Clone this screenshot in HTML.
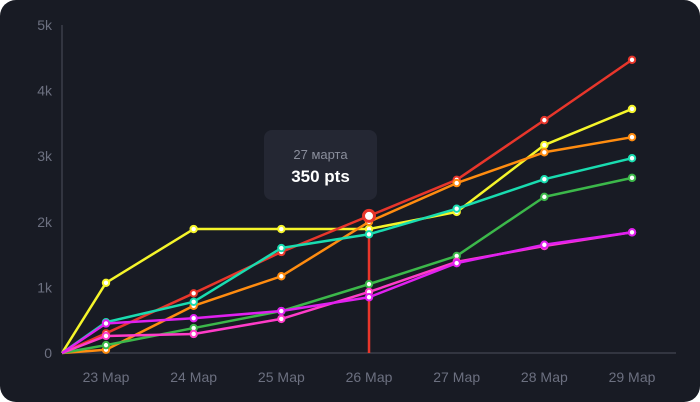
<!DOCTYPE html>
<html><head><meta charset="utf-8"><style>
html,body{margin:0;padding:0;background:#fff;}
#card{position:relative;width:700px;height:402px;background:#181b24;border-radius:16px;overflow:hidden;font-family:"Liberation Sans","DejaVu Sans",sans-serif;}
svg text{font-family:"Liberation Sans","DejaVu Sans",sans-serif;}
</style></head><body>
<div id="card">
<svg id="chart" width="700" height="402"></svg>
</div>
<script>
const categories=["23 Мар","24 Мар","25 Мар","26 Мар","27 Мар","28 Мар","29 Мар"];
const yTicks=[0,1000,2000,3000,4000,5000];
const yTickLabels=["0","1k","2k","3k","4k","5k"];
const seriesNames=["yellow","red","orange","teal","green","pink","magenta"];
const seriesColors=["#f5f52a","#e8362b","#ff8c10","#19dcb0","#3cb84a","#ff3cc8","#e020f0"];
const yellowVals=[1070,1890,1890,1890,2150,3170,3720];
const redVals=[300,910,1540,2090,2640,3550,4470];
const orangeVals=[50,720,1170,2000,2590,3060,3290];
const tealVals=[470,780,1600,1810,2200,2650,2970];
const greenVals=[120,380,640,1050,1480,2380,2670];
const pinkVals=[260,290,520,930,1390,1630,1840];
const magentaVals=[450,530,640,850,1370,1650,1840];
const allSeries=[yellowVals,redVals,orangeVals,tealVals,greenVals,pinkVals,magentaVals];
const hoverIndex=3, hoverSeries=1;
const tooltipDate="27 марта", tooltipValue="350 pts";

const NS="http://www.w3.org/2000/svg";
const svg=document.getElementById('chart');
const x0=106,dx=87.67,yBase=353,yTop=25,yMax=5000;
const xS=i=>x0+i*dx;
const yS=v=>yBase-(v/yMax)*(yBase-yTop);
function mk(t,a){const e=document.createElementNS(NS,t);for(const k in a)e.setAttribute(k,a[k]);svg.appendChild(e);return e;}

let ax=mk('line',{x1:62,y1:yTop,x2:62,y2:yBase,stroke:'#3a3e4a','stroke-width':1.5});


let bx=mk('line',{x1:62,y1:yBase,x2:676,y2:yBase,stroke:'#3a3e4a','stroke-width':1.5});


yTicks.forEach((v,i)=>{const t=mk('text',{x:52,y:yS(v)+5,'text-anchor':'end',fill:'#6c7080','font-size':14});t.textContent=yTickLabels[i];

});
categories.forEach((c,i)=>{const t=mk('text',{x:xS(i),y:382,'text-anchor':'middle',fill:'#6c7080','font-size':14});t.textContent=c;

});

const hl=mk('line',{x1:xS(hoverIndex),y1:yS(allSeries[hoverSeries][hoverIndex]),x2:xS(hoverIndex),y2:yBase,stroke:'#e8362b','stroke-width':2.5});



allSeries.forEach((vals,s)=>{
  const pts=[[62,yBase]].concat(vals.map((v,i)=>[xS(i),yS(v)]));
  const p=mk('polyline',{points:pts.map(p=>p.join(',')).join(' '),fill:'none',stroke:seriesColors[s],'stroke-width':2.5,'stroke-linejoin':'round'});
  
  
  vals.forEach((v,i)=>{
    const c=mk('circle',{cx:xS(i),cy:yS(v),r:3.2,fill:'#fff',stroke:seriesColors[s],'stroke-width':2});
    
    
  });
});
const hp=mk('circle',{cx:xS(hoverIndex),cy:yS(allSeries[hoverSeries][hoverIndex]),r:5.5,fill:'#fff',stroke:'#e8362b','stroke-width':3});



const tb=mk('rect',{x:264,y:130,width:113,height:70,rx:8,fill:'#242733'});


const t1=mk('text',{x:320.5,y:159,'text-anchor':'middle',fill:'#8a8e9c','font-size':13});t1.textContent=tooltipDate;


const t2=mk('text',{x:320.5,y:182,'text-anchor':'middle',fill:'#ffffff','font-size':17,'font-weight':'bold'});t2.textContent=tooltipValue;


</script>
</body></html>
